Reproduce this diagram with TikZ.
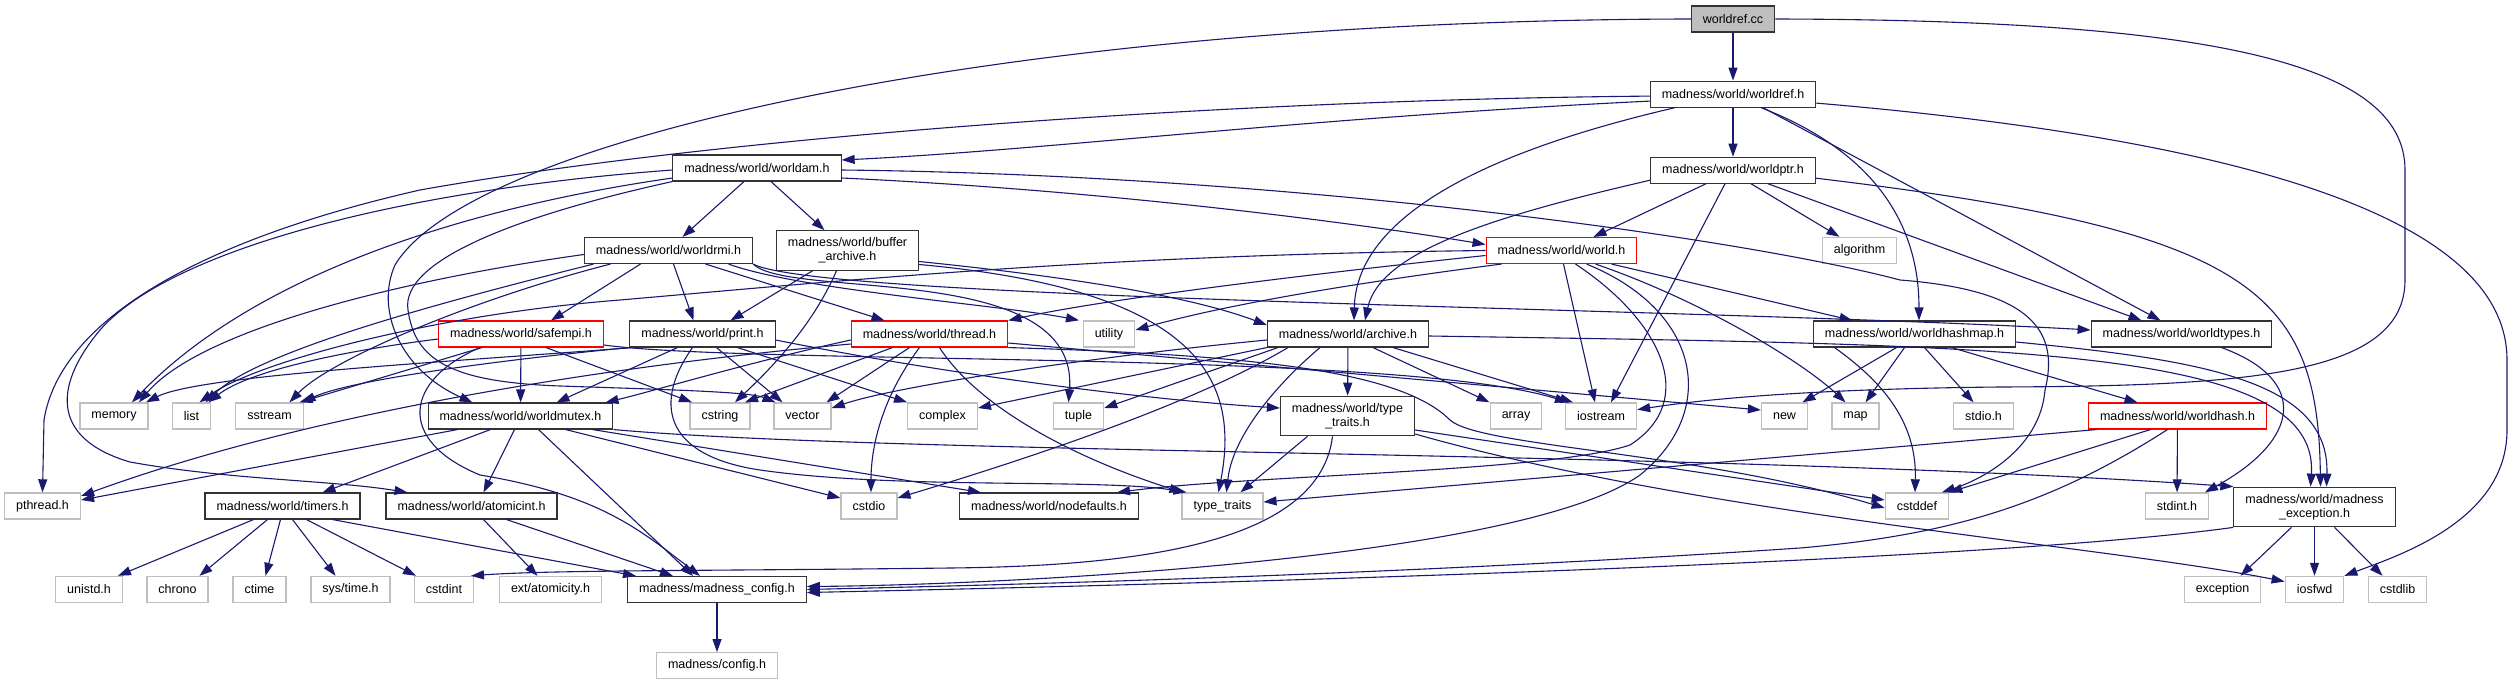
\documentclass[tikz,border=0pt]{standalone}
\usepackage{fontspec}
\setmainfont{Liberation Sans}
\usepackage{tikz}
\usetikzlibrary{arrows.meta, positioning}
\definecolor{edgeblue}{HTML}{191970}
\definecolor{sysgray}{HTML}{BFBFBF}
\tikzset{
    box_black/.style={rectangle, draw=black!80, line width=1.1pt, fill=white, inner xsep=11.5pt, inner ysep=7pt, minimum height=26pt, align=center, font=\fontsize{12.5}{14}\selectfont},
    box_gray/.style={box_black, draw=sysgray, line width=1.4pt},
    box_red/.style={box_black, draw=red},
    box_root/.style={box_black, fill=sysgray},
    incl/.style={-{Triangle[length=13pt, width=9pt]}, draw=edgeblue, line width=1.1pt}
}

\begin{document}
\begin{tikzpicture}[x=1pt, y=-1pt]
            \fill[white] (0,0) rectangle (2512,683);
            \useasboundingbox (0,0) rectangle (2512,683);

            % file and its direct headers
            \node (worldref_cc) [box_root] at (1733,19) {worldref.cc};
            \node (worldref_h) [box_black, below=48pt of worldref_cc] {madness/world/worldref.h};
            \node (worldptr) [box_black, below=49pt of worldref_h] {madness/world/worldptr.h};
            \node (worldam) [box_black] at (757,168) {madness/world/worldam.h};

            \node (worldrmi) [box_black] at (668.5,250.5) {madness/world/worldrmi.h};
            \node (buffer_archive) [box_black] at (847.5,250.5) {madness/world/buffer\\\_archive.h};
            \node (world_h) [box_red] at (1561.5,250.5) {madness/world/world.h};
            \node (algorithm) [box_gray] at (1859.5,250.5) {algorithm};

            \node (safempi) [box_red] at (521,334) {madness/world/safempi.h};
            \node (print) [box_black] at (702.5,334) {madness/world/print.h};
            \node (thread) [box_red] at (929.5,334) {madness/world/thread.h};
            \node (utility) [box_gray] at (1109,334) {utility};
            \node (archive) [box_black] at (1348,334) {madness/world/archive.h};
            \node (worldhashmap) [box_black] at (1914.5,334) {madness/world/worldhashmap.h};
            \node (worldtypes) [box_black] at (2181.5,334) {madness/world/worldtypes.h};

            % middle row
            \node (memory) [box_gray] at (114,416) {memory};
            \node (list) [box_gray] at (191.5,416) {list};
            \node (sstream) [box_gray] at (269.5,416) {sstream};
            \node (worldmutex) [box_black] at (520.5,416) {madness/world/worldmutex.h};
            \node (cstring) [box_gray] at (720,416) {cstring};
            \node (vector) [box_gray] at (802.5,416) {vector};
            \node (complex) [box_gray] at (942.5,416) {complex};
            \node (tuple) [box_gray] at (1078.5,416) {tuple};
            \node (type_traits_h) [box_black] at (1347.5,416) {madness/world/type\\\_traits.h};
            \node (array) [box_gray] at (1516,416) {array};
            \node (iostream) [box_gray] at (1601,416) {iostream};
            \node (std_new) [box_gray] at (1784.5,416) {new};
            \node (std_map) [box_gray] at (1855.5,416) {map};
            \node (stdio) [box_gray] at (1983.5,416) {stdio.h};
            \node (worldhash) [box_red] at (2177.5,416) {madness/world/worldhash.h};

            \node (pthread) [box_gray] at (42.5,506) {pthread.h};
            \node (timers) [box_black] at (282.5,506) {madness/world/timers.h};
            \node (atomicint) [box_black] at (471.5,506) {madness/world/atomicint.h};
            \node (cstdio) [box_gray] at (869,506) {cstdio};
            \node (nodefaults) [box_black] at (1049,506) {madness/world/nodefaults.h};
            \node (type_traits) [box_gray] at (1222.5,506) {type\_traits};
            \node (cstddef) [box_gray] at (1917,506) {cstddef};
            \node (stdint) [box_gray] at (2177,506) {stdint.h};
            \node (mexcept) [box_black] at (2314.5,507) {madness/world/madness\\\_exception.h};

            % bottom rows
            \node (unistd) [box_gray] at (89,589.5) {unistd.h};
            \node (chrono) [box_gray] at (177.5,589.5) {chrono};
            \node (ctime) [box_gray] at (259.5,589.5) {ctime};
            \node (systime) [box_gray] at (350.5,589.5) {sys/time.h};
            \node (cstdint) [box_gray] at (444,589.5) {cstdint};
            \node (atomicity) [box_gray] at (550.5,589.5) {ext/atomicity.h};
            \node (mconfig) [box_black] at (717,589.5) {madness/madness\_config.h};
            \node (exception) [box_gray] at (2222.5,589.5) {exception};
            \node (iosfwd) [box_gray] at (2314.5,589.5) {iosfwd};
            \node (cstdlib) [box_gray] at (2397.5,589.5) {cstdlib};
            \node (config) [box_gray, below=49pt of mconfig] {madness/config.h};

            % worldref.cc
            \draw [incl] (worldref_cc) -- (worldref_h);
            \draw [incl] (worldref_cc.west) .. controls (1000,20) and (470,140) .. (395,265) .. controls (375,310) and (400,370) .. ([xshift=-48pt]worldmutex.north);
            \draw [incl] (worldref_cc.east) .. controls (2200,20) and (2405,60) .. (2405,170) -- (2405,280) .. controls (2405,375) and (2250,386) .. (2000,387) .. controls (1800,389) and (1700,400) .. (iostream.10);

            % worldref.h
            \draw [incl] ([yshift=-7pt]worldref_h.west) .. controls (1300,118) and (1050,150) .. ([yshift=8pt]worldam.east);
            \draw [incl] ([yshift=-2pt]worldref_h.west) .. controls (1200,100) and (700,140) .. (420,190) .. controls (200,240) and (60,320) .. (44,420) -- (pthread.north);
            \draw [incl] (worldref_h) -- (worldptr);
            \draw [incl] ([xshift=-58pt]worldref_h.south) .. controls (1450,160) and (1356,230) .. ([xshift=6pt]archive.north);
            \draw [incl] ([xshift=28pt]worldref_h.south) .. controls (1870,150) and (1919,220) .. ([xshift=4.5pt]worldhashmap.north);
            \draw [incl] ([xshift=30pt]worldref_h.south) -- ([xshift=-21pt]worldtypes.north);
            \draw [incl] ([yshift=-9pt]worldref_h.east) .. controls (2250,140) and (2507,220) .. (2507,360) -- (2507,430) .. controls (2507,520) and (2400,555) .. (iosfwd.north east);

            % worldam.h
            \draw [incl] ([xshift=-13pt]worldam.south) -- ([xshift=14pt]worldrmi.north);
            \draw [incl] ([xshift=14pt]worldam.south) -- ([xshift=-23pt]buffer_archive.north);
            \draw [incl] ([yshift=-10pt]worldam.east) .. controls (1100,190) and (1350,222) .. ([yshift=6pt]world_h.west);
            \draw [incl] ([yshift=-2pt]worldam.east) .. controls (1300,175) and (1750,240) .. (1900,280) .. controls (2030,290) and (2060,330) .. (2045,390) .. controls (2040,450) and (1980,480) .. ([xshift=25pt]cstddef.north);
            \draw [incl] ([yshift=-2pt]worldam.west) .. controls (400,190) and (170,250) .. (100,330) .. controls (50,390) and (55,440) .. (130,462) .. controls (230,480) and (330,480) .. ([xshift=-64pt]atomicint.north);
            \draw [incl] ([yshift=-10pt]worldam.west) .. controls (450,210) and (250,280) .. ([xshift=18pt]memory.north);
            \draw [incl] (worldam.south west) .. controls (520,215) and (400,260) .. (408,310) .. controls (415,360) and (450,382) .. (560,386) .. controls (680,390) and (750,392) .. ([xshift=-27pt]vector.north);

            % worldptr.h
            \draw [incl] ([yshift=-10pt]worldptr.west) .. controls (1500,215) and (1380,250) .. ([xshift=17pt]archive.north);
            \draw [incl] ([xshift=-27pt]worldptr.south) -- ([xshift=32pt]world_h.north);
            \draw [incl] ([xshift=-8pt]worldptr.south) -- ([xshift=10pt]iostream.north);
            \draw [incl] ([xshift=18pt]worldptr.south) -- ([xshift=-20pt]algorithm.north);
            \draw [incl] ([xshift=35pt]worldptr.south) -- ([xshift=-40pt]worldtypes.north);
            \draw [incl] ([yshift=-8pt]worldptr.east) .. controls (2250,230) and (2318,290) .. ([xshift=6pt]mexcept.north);

            % worldrmi.h
            \draw [incl] ([xshift=-28pt]worldrmi.south) -- ([xshift=30pt]safempi.north);
            \draw [incl] ([xshift=5pt]worldrmi.south) -- ([xshift=-9pt]print.north);
            \draw [incl] ([xshift=37pt]worldrmi.south) -- ([xshift=-45pt]thread.north);
            \draw [incl] ([xshift=60pt]worldrmi.south) .. controls (800,290) and (1000,305) .. ([xshift=-30pt]utility.north);
            \draw [incl] (worldrmi.south east) .. controls (820,300) and (1700,308) .. ([yshift=4pt]worldtypes.west);
            \draw [incl] (worldrmi.south east) .. controls (790,300) and (1080,260) .. ([xshift=-10pt]tuple.north);
            \draw [incl] ([yshift=-4pt]worldrmi.west) .. controls (400,280) and (200,330) .. ([xshift=25pt]memory.north);
            \draw [incl] ([xshift=-75pt]worldrmi.south) .. controls (450,300) and (260,350) .. ([xshift=14pt]list.north);
            \draw [incl] ([xshift=-58pt]worldrmi.south) .. controls (470,300) and (330,360) .. ([xshift=20pt]sstream.north);

            % buffer_archive.h
            \draw [incl] ([xshift=-35pt]buffer_archive.south) -- ([xshift=28pt]print.north);
            \draw [incl] ([xshift=-11pt]buffer_archive.south) .. controls (815,320) and (780,360) .. ([xshift=15pt]cstring.north);
            \draw [incl] ([yshift=-11pt]buffer_archive.east) .. controls (1100,280) and (1200,300) .. ([yshift=9pt]archive.west);
            \draw [incl] ([yshift=-14pt]buffer_archive.east) .. controls (1200,290) and (1240,380) .. ([xshift=-4pt]type_traits.north);

            % world.h
            \draw [incl] ([yshift=-5pt]world_h.west) .. controls (1300,275) and (1100,300) .. (thread.north east);
            \draw [incl] ([xshift=-60pt]world_h.south) .. controls (1300,290) and (1200,312) .. ([yshift=4pt]utility.east);
            \draw [incl] (world_h.west) .. controls (1100,255) and (850,280) .. (620,300) .. controls (440,314) and (260,360) .. ([xshift=8pt]list.north);
            \draw [incl] ([xshift=2pt]world_h.south) -- ([xshift=-6pt]iostream.north);
            \draw [incl] ([xshift=14pt]world_h.south) .. controls (1660,320) and (1700,400) .. (1630,445) .. controls (1550,472) and (1250,475) .. ([xshift=68pt]nodefaults.north);
            \draw [incl] ([xshift=25pt]world_h.south) .. controls (1700,310) and (1720,410) .. (1640,475) .. controls (1520,560) and (1000,585) .. ([yshift=3pt]mconfig.east);
            \draw [incl] ([xshift=34pt]world_h.south) .. controls (1700,300) and (1800,360) .. ([xshift=-10pt]std_map.north);
            \draw [incl] ([xshift=50pt]world_h.south) -- ([xshift=-62pt]worldhashmap.north);

            % safempi.h
            \draw [incl] (safempi) -- (worldmutex);
            \draw [incl] ([xshift=-39pt]safempi.south) -- ([xshift=30pt]sstream.north);
            \draw [incl] ([yshift=-5pt]safempi.west) .. controls (350,350) and (250,370) .. ([xshift=17pt]list.north);
            \draw [incl] ([xshift=25pt]safempi.south) -- ([xshift=-28pt]cstring.north);
            \draw [incl] ([xshift=-41pt]safempi.south) .. controls (405,380) and (395,440) .. (480,475) .. controls (600,495) and (640,530) .. ([xshift=-17pt]mconfig.north);
            \draw [incl] ([yshift=-11pt]safempi.east) .. controls (750,365) and (1400,350) .. ([xshift=-33pt]iostream.north);

            % print.h
            \draw [incl] ([xshift=-25pt]print.south) -- ([xshift=36pt]worldmutex.north);
            \draw [incl] ([xshift=14pt]print.south) -- ([xshift=-20pt]vector.north);
            \draw [incl] ([xshift=35pt]print.south) -- (complex.north west);
            \draw [incl] (print.south west) .. controls (500,360) and (350,380) .. ([xshift=33pt]sstream.north);
            \draw [incl] ([xshift=-70pt]print.south) .. controls (450,362) and (200,375) .. ([xshift=32pt]memory.north);
            \draw [incl] ([xshift=-10pt]print.south) .. controls (655,400) and (660,455) .. (760,470) .. controls (900,490) and (1100,478) .. ([xshift=-36pt]type_traits.north);
            \draw [incl] ([yshift=-6pt]print.east) .. controls (950,375) and (1150,400) .. ([yshift=8pt]type_traits_h.west);

            % thread.h
            \draw [incl] ([yshift=-6pt]thread.west) .. controls (750,362) and (650,392) .. ([xshift=-8pt]worldmutex.north east);
            \draw [incl] ([yshift=-10pt]thread.west) .. controls (650,362) and (330,405) .. ([yshift=10pt]pthread.east);
            \draw [incl] ([xshift=-37pt]thread.south) -- ([xshift=25pt]cstring.north);
            \draw [incl] ([xshift=-20pt]thread.south) -- ([xshift=24pt]vector.north);
            \draw [incl] ([xshift=-10pt]thread.south) .. controls (880,400) and (871,450) .. ([xshift=2pt]cstdio.north);
            \draw [incl] ([xshift=10pt]thread.south) .. controls (980,410) and (1080,460) .. ([xshift=-40pt]type_traits.north);
            \draw [incl] ([yshift=-9pt]thread.east) -- ([yshift=6pt]std_new.west);
            \draw [incl] (thread.south east) .. controls (1250,355) and (1400,370) .. (1450,420) .. controls (1480,447) and (1700,452) .. ([yshift=-2pt]cstddef.west);

            % archive.h
            \draw [incl] (archive) -- (type_traits_h);
            \draw [incl] ([xshift=25pt]archive.south) -- (array.north west);
            \draw [incl] ([xshift=45pt]archive.south) -- ([xshift=-28pt]iostream.north);
            \draw [incl] ([xshift=-28pt]archive.south) .. controls (1270,390) and (1232,440) .. ([xshift=4pt]type_traits.north);
            \draw [incl] ([xshift=-60pt]archive.south) .. controls (1200,400) and (1050,452) .. ([yshift=8pt]cstdio.east);
            \draw [incl] (archive.south west) -- ([yshift=8pt]complex.east);
            \draw [incl] ([xshift=-70pt]archive.south) -- ([yshift=8pt]tuple.east);
            \draw [incl] ([yshift=-6pt]archive.west) .. controls (1100,356) and (900,385) .. ([yshift=8pt]vector.east);
            \draw [incl] ([yshift=-2pt]archive.east) .. controls (2000,345) and (2320,345) .. ([xshift=-4pt]mexcept.north);

            % worldhashmap.h
            \draw [incl] ([xshift=-18pt]worldhashmap.south) -- ([xshift=18pt]std_new.north);
            \draw [incl] ([xshift=-10pt]worldhashmap.south) -- ([xshift=10pt]std_map.north);
            \draw [incl] ([xshift=10pt]worldhashmap.south) -- ([xshift=-10pt]stdio.north);
            \draw [incl] ([xshift=37pt]worldhashmap.south) -- ([xshift=-40pt]worldhash.north);
            \draw [incl] ([yshift=-8pt]worldhashmap.east) .. controls (2200,360) and (2330,380) .. ([xshift=12pt]mexcept.north);
            \draw [incl] ([xshift=-80pt]worldhashmap.south) .. controls (1880,380) and (1917,420) .. ([xshift=-2pt]cstddef.north);

            % worldtypes.h
            \draw [incl] ([xshift=40pt]worldtypes.south) .. controls (2310,380) and (2300,440) .. ([xshift=28pt]stdint.north);

            % type_traits.h
            \draw [incl] ([xshift=-40pt]type_traits_h.south) -- ([xshift=18pt]type_traits.north);
            \draw [incl] ([xshift=-15pt]type_traits_h.south) .. controls (1320,540) and (1150,566) .. (950,568) .. controls (700,571) and (550,570) .. ([xshift=27pt]cstdint.north);
            \draw [incl] ([yshift=-14pt]type_traits_h.east) -- ([yshift=6pt]cstddef.west);
            \draw [incl] ([yshift=-18pt]type_traits_h.east) .. controls (1700,515) and (2100,545) .. ([yshift=8pt]iosfwd.west);

            % worldhash.h
            \draw [incl] ([xshift=-81pt]worldhash.south) -- ([yshift=4pt]type_traits.east);
            \draw [incl] ([xshift=-27pt]worldhash.south) -- (cstddef.north east);
            \draw [incl] (worldhash) -- (stdint);
            \draw [incl] ([xshift=-10pt]worldhash.south) .. controls (2050,505) and (1950,535) .. (1800,548) .. controls (1400,575) and (1000,585) .. (mconfig.east);

            % madness_exception.h
            \draw [incl] (mexcept.south west) .. controls (2000,560) and (1300,582) .. ([yshift=-3pt]mconfig.east);
            \draw [incl] ([xshift=-23pt]mexcept.south) -- ([xshift=18pt]exception.north);
            \draw [incl] (mexcept) -- (iosfwd);
            \draw [incl] ([xshift=20pt]mexcept.south) -- ([xshift=-15pt]cstdlib.north);

            % worldmutex.h
            \draw [incl] ([xshift=-63pt]worldmutex.south) -- ([yshift=6pt]pthread.east);
            \draw [incl] ([xshift=-30pt]worldmutex.south) -- ([xshift=40pt]timers.north);
            \draw [incl] ([xshift=-6pt]worldmutex.south) -- ([xshift=12pt]atomicint.north);
            \draw [incl] ([xshift=18pt]worldmutex.south) -- ([xshift=-24pt]mconfig.north);
            \draw [incl] ([xshift=45pt]worldmutex.south) -- ([yshift=8pt]cstdio.west);
            \draw [incl] ([xshift=72pt]worldmutex.south) -- ([xshift=-68pt]nodefaults.north);
            \draw [incl] (worldmutex.south east) .. controls (900,455) and (1700,450) .. (mexcept.north west);

            % timers.h and atomicint.h
            \draw [incl] ([xshift=-29pt]timers.south) -- ([xshift=29pt]unistd.north);
            \draw [incl] ([xshift=-15pt]timers.south) -- ([xshift=22pt]chrono.north);
            \draw [incl] ([xshift=-2pt]timers.south) -- ([xshift=6pt]ctime.north);
            \draw [incl] ([xshift=10pt]timers.south) -- ([xshift=-15pt]systime.north);
            \draw [incl] ([xshift=24pt]timers.south) -- ([xshift=-28pt]cstdint.north);
            \draw [incl] ([xshift=50pt]timers.south) -- ([xshift=-81pt]mconfig.north);
            \draw [incl] ([xshift=12pt]atomicint.south) -- ([xshift=-13pt]atomicity.north);
            \draw [incl] ([xshift=35pt]atomicint.south) -- ([xshift=-44pt]mconfig.north);

            % config
            \draw [incl] (mconfig) -- (config);
\end{tikzpicture}
\end{document}
